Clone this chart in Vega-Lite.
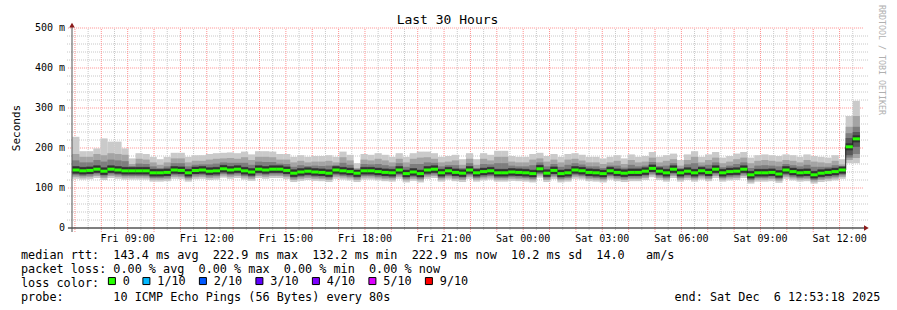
{
"$schema":"https://vega.github.io/schema/vega-lite/v6.json",
"width":801,"height":200,
"autosize":{"type":"none"},
"padding":{"left":67,"top":28,"right":29,"bottom":82},
"background":"white",
"title":{"text":"Last 30 Hours","font":"DejaVu Sans Mono","fontSize":13,"fontWeight":"normal","color":"black","anchor":"middle","dx":-20,"offset":1.5,"dy":23.5},
"config":{"view":{"stroke":null},"axis":{"disable":true}},
"datasets":{
"s":[
{"t":422,"m":145,"a":123,"b":128,"c":132,"d":136,"g":155,"h":169,"i":185,"j":228},
{"t":438,"m":143,"a":121,"b":126,"c":130,"d":134,"g":153,"h":164,"i":178,"j":192},
{"t":454,"m":144,"a":122,"b":127,"c":131,"d":135,"g":154,"h":164,"i":178,"j":192},
{"t":470,"m":147,"a":125,"b":130,"c":134,"d":138,"g":157,"h":170,"i":185,"j":199},
{"t":486,"m":142,"a":120,"b":125,"c":129,"d":133,"g":152,"h":166,"i":182,"j":224},
{"t":502,"m":147,"a":125,"b":130,"c":134,"d":138,"g":157,"h":171,"i":187,"j":216},
{"t":518,"m":145,"a":123,"b":128,"c":132,"d":136,"g":155,"h":169,"i":185,"j":216},
{"t":534,"m":143,"a":121,"b":126,"c":130,"d":134,"g":153,"h":167,"i":183,"j":199},
{"t":550,"m":143,"a":121,"b":126,"c":130,"d":134,"g":152,"h":155,"i":160,"j":174},
{"t":566,"m":143,"a":121,"b":126,"c":130,"d":134,"g":153,"h":161,"i":173,"j":187},
{"t":582,"m":143,"a":121,"b":126,"c":130,"d":134,"g":153,"h":160,"i":171,"j":185},
{"t":598,"m":138,"a":116,"b":121,"c":125,"d":129,"g":148,"h":154,"i":164,"j":178},
{"t":614,"m":138,"a":116,"b":121,"c":125,"d":129,"g":147,"h":150,"i":158,"j":172},
{"t":630,"m":139,"a":117,"b":122,"c":126,"d":130,"g":149,"h":154,"i":164,"j":178},
{"t":646,"m":145,"a":123,"b":128,"c":132,"d":136,"g":155,"h":162,"i":174,"j":188},
{"t":662,"m":144,"a":122,"b":127,"c":131,"d":135,"g":154,"h":162,"i":174,"j":188},
{"t":678,"m":138,"a":116,"b":121,"c":125,"d":129,"g":148,"h":154,"i":164,"j":178},
{"t":694,"m":144,"a":122,"b":127,"c":131,"d":135,"g":154,"h":158,"i":168,"j":182},
{"t":710,"m":145,"a":123,"b":128,"c":132,"d":136,"g":155,"h":159,"i":168,"j":182},
{"t":726,"m":142,"a":120,"b":125,"c":129,"d":133,"g":152,"h":159,"i":171,"j":185},
{"t":742,"m":143,"a":121,"b":126,"c":130,"d":134,"g":153,"h":161,"i":173,"j":187},
{"t":758,"m":148,"a":126,"b":131,"c":135,"d":139,"g":158,"h":164,"i":174,"j":188},
{"t":774,"m":145,"a":123,"b":128,"c":132,"d":136,"g":155,"h":163,"i":175,"j":189},
{"t":790,"m":147,"a":125,"b":130,"c":134,"d":138,"g":157,"h":163,"i":173,"j":187},
{"t":806,"m":143,"a":121,"b":126,"c":130,"d":134,"g":153,"h":163,"i":177,"j":191},
{"t":822,"m":140,"a":118,"b":123,"c":127,"d":131,"g":150,"h":158,"i":170,"j":184},
{"t":838,"m":147,"a":125,"b":130,"c":134,"d":138,"g":157,"h":166,"i":178,"j":192},
{"t":854,"m":145,"a":123,"b":128,"c":132,"d":136,"g":155,"h":165,"i":178,"j":192},
{"t":870,"m":147,"a":125,"b":130,"c":134,"d":138,"g":157,"h":165,"i":177,"j":191},
{"t":886,"m":147,"a":125,"b":130,"c":134,"d":138,"g":157,"h":161,"i":171,"j":185},
{"t":902,"m":144,"a":122,"b":127,"c":131,"d":135,"g":154,"h":160,"i":171,"j":185},
{"t":918,"m":137,"a":115,"b":120,"c":124,"d":128,"g":147,"h":153,"i":164,"j":178},
{"t":934,"m":140,"a":118,"b":123,"c":127,"d":131,"g":150,"h":157,"i":168,"j":182},
{"t":950,"m":142,"a":120,"b":125,"c":129,"d":133,"g":152,"h":155,"i":164,"j":178},
{"t":966,"m":140,"a":118,"b":123,"c":127,"d":131,"g":150,"h":156,"i":166,"j":180},
{"t":982,"m":139,"a":117,"b":122,"c":126,"d":130,"g":149,"h":155,"i":166,"j":180},
{"t":998,"m":137,"a":115,"b":120,"c":124,"d":128,"g":147,"h":156,"i":168,"j":182},
{"t":1014,"m":145,"a":123,"b":128,"c":132,"d":136,"g":155,"h":157,"i":164,"j":178},
{"t":1030,"m":143,"a":121,"b":126,"c":130,"d":134,"g":153,"h":163,"i":177,"j":191},
{"t":1046,"m":141,"a":119,"b":124,"c":128,"d":132,"g":151,"h":158,"i":169,"j":183},
{"t":1062,"m":137,"a":115,"b":120,"c":124,"d":128,"g":143,"h":146,"i":150,"j":162},
{"t":1078,"m":143,"a":121,"b":126,"c":130,"d":134,"g":153,"h":160,"i":171,"j":185},
{"t":1094,"m":143,"a":121,"b":126,"c":130,"d":134,"g":153,"h":159,"i":169,"j":183},
{"t":1110,"m":141,"a":119,"b":124,"c":128,"d":132,"g":151,"h":160,"i":173,"j":187},
{"t":1126,"m":139,"a":117,"b":122,"c":126,"d":130,"g":149,"h":157,"i":169,"j":183},
{"t":1142,"m":138,"a":116,"b":121,"c":125,"d":129,"g":148,"h":154,"i":164,"j":178},
{"t":1158,"m":145,"a":123,"b":128,"c":132,"d":136,"g":155,"h":162,"i":173,"j":187},
{"t":1174,"m":136,"a":114,"b":119,"c":123,"d":127,"g":146,"h":153,"i":164,"j":178},
{"t":1190,"m":140,"a":118,"b":123,"c":127,"d":131,"g":150,"h":160,"i":173,"j":187},
{"t":1206,"m":136,"a":114,"b":119,"c":123,"d":127,"g":146,"h":160,"i":176,"j":191},
{"t":1222,"m":145,"a":123,"b":128,"c":132,"d":136,"g":155,"h":164,"i":177,"j":191},
{"t":1238,"m":147,"a":125,"b":130,"c":134,"d":138,"g":157,"h":163,"i":173,"j":187},
{"t":1254,"m":138,"a":116,"b":121,"c":125,"d":129,"g":148,"h":154,"i":164,"j":178},
{"t":1270,"m":143,"a":121,"b":126,"c":130,"d":134,"g":153,"h":157,"i":166,"j":180},
{"t":1286,"m":139,"a":117,"b":122,"c":126,"d":130,"g":149,"h":157,"i":169,"j":183},
{"t":1302,"m":137,"a":115,"b":120,"c":124,"d":128,"g":147,"h":150,"i":158,"j":172},
{"t":1318,"m":145,"a":123,"b":128,"c":132,"d":136,"g":155,"h":162,"i":173,"j":187},
{"t":1334,"m":138,"a":116,"b":121,"c":125,"d":129,"g":148,"h":150,"i":158,"j":172},
{"t":1350,"m":141,"a":119,"b":124,"c":128,"d":132,"g":151,"h":160,"i":173,"j":187},
{"t":1366,"m":143,"a":121,"b":126,"c":130,"d":134,"g":153,"h":159,"i":169,"j":183},
{"t":1382,"m":138,"a":116,"b":121,"c":125,"d":129,"g":148,"h":162,"i":178,"j":193},
{"t":1398,"m":138,"a":116,"b":121,"c":125,"d":129,"g":148,"h":162,"i":178,"j":193},
{"t":1414,"m":140,"a":118,"b":123,"c":127,"d":131,"g":150,"h":156,"i":166,"j":180},
{"t":1430,"m":139,"a":117,"b":122,"c":126,"d":130,"g":149,"h":154,"i":164,"j":178},
{"t":1446,"m":138,"a":116,"b":121,"c":125,"d":129,"g":148,"h":154,"i":164,"j":178},
{"t":1462,"m":136,"a":114,"b":119,"c":123,"d":127,"g":146,"h":157,"i":171,"j":185},
{"t":1478,"m":148,"a":126,"b":131,"c":135,"d":139,"g":158,"h":164,"i":174,"j":188},
{"t":1494,"m":137,"a":115,"b":120,"c":124,"d":128,"g":147,"h":154,"i":166,"j":180},
{"t":1510,"m":144,"a":122,"b":127,"c":131,"d":135,"g":154,"h":160,"i":171,"j":185},
{"t":1526,"m":136,"a":114,"b":119,"c":123,"d":127,"g":146,"h":153,"i":164,"j":178},
{"t":1542,"m":138,"a":116,"b":121,"c":125,"d":129,"g":148,"h":158,"i":171,"j":185},
{"t":1558,"m":145,"a":123,"b":128,"c":132,"d":136,"g":155,"h":162,"i":173,"j":187},
{"t":1574,"m":143,"a":121,"b":126,"c":130,"d":134,"g":153,"h":159,"i":169,"j":183},
{"t":1590,"m":139,"a":117,"b":122,"c":126,"d":130,"g":149,"h":154,"i":164,"j":178},
{"t":1606,"m":138,"a":116,"b":121,"c":125,"d":129,"g":148,"h":154,"i":164,"j":178},
{"t":1622,"m":136,"a":114,"b":119,"c":123,"d":127,"g":146,"h":150,"i":160,"j":174},
{"t":1638,"m":143,"a":121,"b":126,"c":130,"d":134,"g":153,"h":156,"i":164,"j":178},
{"t":1654,"m":139,"a":117,"b":122,"c":126,"d":130,"g":149,"h":156,"i":168,"j":182},
{"t":1670,"m":137,"a":115,"b":120,"c":124,"d":128,"g":147,"h":151,"i":160,"j":174},
{"t":1686,"m":139,"a":117,"b":122,"c":126,"d":130,"g":149,"h":158,"i":170,"j":184},
{"t":1702,"m":139,"a":117,"b":122,"c":126,"d":130,"g":149,"h":154,"i":164,"j":178},
{"t":1718,"m":142,"a":120,"b":125,"c":129,"d":133,"g":152,"h":156,"i":166,"j":180},
{"t":1734,"m":149,"a":127,"b":132,"c":136,"d":140,"g":159,"h":165,"i":176,"j":190},
{"t":1750,"m":142,"a":120,"b":125,"c":129,"d":133,"g":152,"h":155,"i":164,"j":178},
{"t":1766,"m":138,"a":116,"b":121,"c":125,"d":129,"g":148,"h":156,"i":168,"j":182},
{"t":1782,"m":147,"a":125,"b":130,"c":134,"d":138,"g":157,"h":162,"i":172,"j":186},
{"t":1798,"m":138,"a":116,"b":121,"c":125,"d":129,"g":147,"h":150,"i":156,"j":170},
{"t":1814,"m":142,"a":120,"b":125,"c":129,"d":133,"g":152,"h":159,"i":170,"j":184},
{"t":1830,"m":138,"a":116,"b":121,"c":125,"d":129,"g":148,"h":162,"i":178,"j":192},
{"t":1846,"m":143,"a":121,"b":126,"c":130,"d":134,"g":153,"h":156,"i":164,"j":178},
{"t":1862,"m":139,"a":117,"b":122,"c":126,"d":130,"g":149,"h":158,"i":170,"j":184},
{"t":1878,"m":147,"a":125,"b":130,"c":134,"d":138,"g":157,"h":164,"i":176,"j":190},
{"t":1894,"m":138,"a":116,"b":121,"c":125,"d":129,"g":148,"h":152,"i":162,"j":176},
{"t":1910,"m":141,"a":119,"b":124,"c":128,"d":132,"g":151,"h":156,"i":166,"j":180},
{"t":1926,"m":142,"a":120,"b":125,"c":129,"d":133,"g":152,"h":160,"i":172,"j":186},
{"t":1942,"m":147,"a":125,"b":130,"c":134,"d":138,"g":157,"h":164,"i":176,"j":190},
{"t":1958,"m":133,"a":111,"b":116,"c":120,"d":124,"g":143,"h":150,"i":162,"j":176},
{"t":1974,"m":138,"a":116,"b":121,"c":125,"d":129,"g":148,"h":156,"i":168,"j":182},
{"t":1990,"m":138,"a":116,"b":121,"c":125,"d":129,"g":148,"h":157,"i":170,"j":184},
{"t":2006,"m":139,"a":117,"b":122,"c":126,"d":130,"g":149,"h":156,"i":168,"j":182},
{"t":2022,"m":135,"a":113,"b":118,"c":122,"d":126,"g":145,"h":154,"i":166,"j":180},
{"t":2038,"m":145,"a":123,"b":128,"c":132,"d":136,"g":155,"h":160,"i":170,"j":184},
{"t":2054,"m":141,"a":119,"b":124,"c":128,"d":132,"g":151,"h":157,"i":168,"j":182},
{"t":2070,"m":138,"a":116,"b":121,"c":125,"d":129,"g":148,"h":154,"i":164,"j":178},
{"t":2086,"m":139,"a":117,"b":122,"c":126,"d":130,"g":149,"h":158,"i":170,"j":184},
{"t":2102,"m":133,"a":111,"b":116,"c":120,"d":124,"g":143,"h":153,"i":166,"j":180},
{"t":2118,"m":137,"a":115,"b":120,"c":124,"d":128,"g":147,"h":153,"i":164,"j":178},
{"t":2134,"m":139,"a":117,"b":122,"c":126,"d":130,"g":149,"h":153,"i":162,"j":176},
{"t":2150,"m":141,"a":119,"b":124,"c":128,"d":132,"g":151,"h":157,"i":168,"j":182},
{"t":2166,"m":145,"a":123,"b":128,"c":132,"d":136,"g":151,"h":154,"i":159,"j":172},
{"t":2182,"m":203,"a":162,"b":170,"c":176,"d":182,"g":225,"h":237,"i":253,"j":280},
{"t":2198,"m":222.9,"a":162,"b":175,"c":185,"d":203,"g":240,"h":253,"i":280,"j":318}
],
"vmin":[{"t":450},{"t":510},{"t":570},{"t":630},{"t":690},{"t":750},{"t":810},{"t":870},{"t":930},{"t":990},{"t":1050},{"t":1110},{"t":1170},{"t":1230},{"t":1290},{"t":1350},{"t":1410},{"t":1470},{"t":1530},{"t":1590},{"t":1650},{"t":1710},{"t":1770},{"t":1830},{"t":1890},{"t":1950},{"t":2010},{"t":2070},{"t":2130},{"t":2190}],
"vmaj":[{"t":420},{"t":480},{"t":540},{"t":600},{"t":660},{"t":720},{"t":780},{"t":840},{"t":900},{"t":960},{"t":1020},{"t":1080},{"t":1140},{"t":1200},{"t":1260},{"t":1320},{"t":1380},{"t":1440},{"t":1500},{"t":1560},{"t":1620},{"t":1680},{"t":1740},{"t":1800},{"t":1860},{"t":1920},{"t":1980},{"t":2040},{"t":2100},{"t":2160}],
"hmin":[{"v":20},{"v":40},{"v":60},{"v":80},{"v":120},{"v":140},{"v":160},{"v":180},{"v":220},{"v":240},{"v":260},{"v":280},{"v":320},{"v":340},{"v":360},{"v":380},{"v":420},{"v":440},{"v":460},{"v":480}],
"hmaj":[{"v":100},{"v":200},{"v":300},{"v":400},{"v":500}],
"xl":[{"t":540,"s":"Fri 09:00"},{"t":720,"s":"Fri 12:00"},{"t":900,"s":"Fri 15:00"},{"t":1080,"s":"Fri 18:00"},{"t":1260,"s":"Fri 21:00"},{"t":1440,"s":"Sat 00:00"},{"t":1620,"s":"Sat 03:00"},{"t":1800,"s":"Sat 06:00"},{"t":1980,"s":"Sat 09:00"},{"t":2160,"s":"Sat 12:00"}],
"yl":[{"v":0,"s":"0\u00a0\u00a0"},{"v":100,"s":"100\u00a0m"},{"v":200,"s":"200\u00a0m"},{"v":300,"s":"300\u00a0m"},{"v":400,"s":"400\u00a0m"},{"v":500,"s":"500\u00a0m"}],
"one":[{"k":1}]
},
"layer":[
{"data":{"name":"vmin"},"mark":{"type":"rule","color":"#c8c8c8","strokeDash":[1,1]},
 "encoding":{"x":{"field":"t","type":"quantitative","scale":{"domain":[413.3,2213.3],"nice":false,"zero":false}},
  "y":{"datum":-5,"scale":{"domain":[0,500],"nice":false,"zero":false}},"y2":{"datum":500}}},
{"data":{"name":"hmin"},"mark":{"type":"rule","color":"#c8c8c8","strokeDash":[1,1]},
 "encoding":{"y":{"field":"v","type":"quantitative"}}},
{"data":{"name":"vmaj"},"mark":{"type":"rule","color":"#ff9090","strokeDash":[1,1]},
 "encoding":{"x":{"field":"t","type":"quantitative"},"y":{"datum":-10},"y2":{"datum":500}}},
{"data":{"name":"hmaj"},"mark":{"type":"rule","color":"#ff9090","strokeDash":[1,1]},
 "encoding":{"y":{"field":"v","type":"quantitative"},"x":{"datum":404},"x2":{"datum":2213.3}}},
{"data":{"name":"s"},"mark":{"type":"bar","fill":"#cacaca","width":7.2},
 "encoding":{"x":{"field":"t","type":"quantitative"},"y":{"field":"a","type":"quantitative"},"y2":{"field":"j"}}},
{"data":{"name":"s"},"mark":{"type":"bar","fill":"#a4a4a4","width":7.2},
 "encoding":{"x":{"field":"t","type":"quantitative"},"y":{"field":"b","type":"quantitative"},"y2":{"field":"i"}}},
{"data":{"name":"s"},"mark":{"type":"bar","fill":"#7e7e7e","width":7.2},
 "encoding":{"x":{"field":"t","type":"quantitative"},"y":{"field":"c","type":"quantitative"},"y2":{"field":"h"}}},
{"data":{"name":"s"},"mark":{"type":"bar","fill":"#585858","width":7.2},
 "encoding":{"x":{"field":"t","type":"quantitative"},"y":{"field":"d","type":"quantitative"},"y2":{"field":"g"}}},
{"data":{"name":"s"},"mark":{"type":"tick","orient":"horizontal","color":"#323232","size":7.2,"thickness":7,"opacity":1},
 "encoding":{"x":{"field":"t","type":"quantitative"},"y":{"field":"m","type":"quantitative"}}},
{"data":{"name":"s"},"mark":{"type":"line","interpolate":"step","color":"#202020","strokeWidth":1},
 "encoding":{"x":{"field":"t","type":"quantitative"},"y":{"field":"m","type":"quantitative"}}},
{"data":{"name":"s"},"mark":{"type":"tick","orient":"horizontal","size":7.2,"thickness":3,"opacity":1},
 "encoding":{"x":{"field":"t","type":"quantitative"},"y":{"field":"m","type":"quantitative"},
  "color":{"datum":"0","type":"nominal","scale":{"domain":["0","1/10","2/10","3/10","4/10","5/10","9/10"],"range":["#26ff00","#00b8ff","#0059ff","#5e00ff","#7e00ff","#dd00ff","#ff0000"]},
    "legend":{"title":null,"orient":"none","legendX":39,"legendY":247,"direction":"horizontal","symbolType":"square","symbolSize":49,"symbolStrokeWidth":1,"symbolStrokeColor":"black","symbolOpacity":1,"labelFont":"DejaVu Sans Mono","labelFontSize":11.8,"labelColor":"black","labelOffset":5,"columnPadding":10.5,"padding":0}}}},
{"data":{"name":"one"},"mark":{"type":"rule","color":"black","strokeWidth":1},
 "encoding":{"y":{"datum":0},"x":{"datum":404},"x2":{"datum":2218}}},
{"data":{"name":"one"},"mark":{"type":"rule","color":"#505050","strokeWidth":1},
 "encoding":{"x":{"datum":413.3},"y":{"datum":-10},"y2":{"datum":505}}},
{"data":{"name":"one"},"mark":{"type":"point","shape":"triangle-up","filled":true,"color":"#8b1a1a","size":30,"opacity":1},
 "encoding":{"x":{"datum":413.3},"y":{"datum":507}}},
{"data":{"name":"one"},"mark":{"type":"point","shape":"triangle-right","filled":true,"color":"#8b1a1a","size":30,"opacity":1},
 "encoding":{"x":{"datum":2221},"y":{"datum":0}}},
{"data":{"name":"xl"},"mark":{"type":"text","font":"DejaVu Sans Mono","fontSize":10,"color":"black","align":"center","baseline":"alphabetic","dy":13.5},
 "encoding":{"x":{"field":"t","type":"quantitative"},"y":{"datum":0},"text":{"field":"s"}}},
{"data":{"name":"yl"},"mark":{"type":"text","font":"DejaVu Sans Mono","fontSize":10,"color":"black","align":"right","baseline":"middle","dx":-7},
 "encoding":{"y":{"field":"v","type":"quantitative"},"x":{"datum":413.3},"text":{"field":"s"}}},
{"data":{"values":[{"s":"Seconds"}]},"mark":{"type":"text","font":"DejaVu Sans Mono","fontSize":11,"color":"black","align":"center","baseline":"middle","angle":270},
 "encoding":{"x":{"datum":287.5},"y":{"datum":250},"text":{"field":"s"}}},
{"data":{"values":[{"s":"RRDTOOL / TOBI OETIKER"}]},"mark":{"type":"text","font":"DejaVu Sans Mono","fontSize":8.3,"color":"#b0b0b0","align":"center","baseline":"middle","angle":90},
 "encoding":{"x":{"datum":2253.7},"y":{"datum":420},"text":{"field":"s"}}},
{"data":{"values":[{"s":"median rtt:\u00a0\u00a0143.4 ms avg\u00a0\u00a0222.9 ms max\u00a0\u00a0132.2 ms min\u00a0\u00a0222.9 ms now\u00a0\u00a010.2 ms sd\u00a0\u00a014.0\u00a0\u00a0\u00a0am/s\npacket loss: 0.00 % avg\u00a0\u00a00.00 % max\u00a0\u00a00.00 % min\u00a0\u00a00.00 % now\nloss color:\nprobe:\u00a0\u00a0\u00a0\u00a0\u00a0\u00a0\u00a010 ICMP Echo Pings (56 Bytes) every 80s\u00a0\u00a0\u00a0\u00a0\u00a0\u00a0\u00a0\u00a0\u00a0\u00a0\u00a0\u00a0\u00a0\u00a0\u00a0\u00a0\u00a0\u00a0\u00a0\u00a0\u00a0\u00a0\u00a0\u00a0\u00a0\u00a0\u00a0\u00a0\u00a0\u00a0\u00a0\u00a0\u00a0\u00a0\u00a0\u00a0\u00a0\u00a0\u00a0\u00a0end: Sat Dec\u00a0\u00a06 12:53:18 2025"}]},
 "mark":{"type":"text","font":"DejaVu Sans Mono","fontSize":11.8,"color":"black","align":"left","baseline":"alphabetic","lineBreak":"\n","lineHeight":14,"dx":-51,"dy":30.5},
 "encoding":{"x":{"datum":413.3},"y":{"datum":0},"text":{"field":"s"}}}
]
}
